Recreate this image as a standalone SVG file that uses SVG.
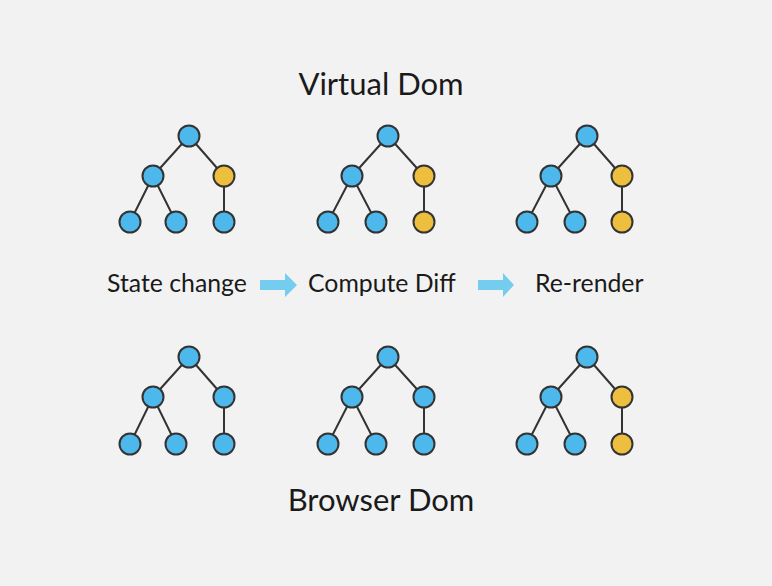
<svg xmlns="http://www.w3.org/2000/svg" width="772" height="586" viewBox="0 0 772 586">
<defs>
<style>
.bg{fill:#f2f2f2}
.e{stroke:#333;stroke-width:2;fill:none}
.b{fill:#4cb8ec;stroke:#333;stroke-width:2}
.y{fill:#eebf3f;stroke:#333;stroke-width:2}
.t{font-family:Lato,"Open Sans",sans-serif;fill:#1a1a1a}
.h{font-size:31px}
.l{font-size:24.8px}
.a{fill:#74cdef}
</style>
</defs>
<rect class="bg" x="0" y="0" width="772" height="586"/>
<g id="connectors">
<path class="e" d="M189,136L153,176M189,136L224,176M153,176L130,222M153,176L176,222M224,176L224,222"/>
<path class="e" d="M388,136L352,176M388,136L424,176M352,176L328,222M352,176L376,222M424,176L424,222"/>
<path class="e" d="M587,136L551,176M587,136L622,176M551,176L527,222M551,176L575,222M622,176L622,222"/>
<path class="e" d="M189,357L153,397M189,357L224,397M153,397L130,444M153,397L176,444M224,397L224,444"/>
<path class="e" d="M388,357L352,397M388,357L424,397M352,397L328,444M352,397L376,444M424,397L424,444"/>
<path class="e" d="M587,357L551,397M587,357L622,397M551,397L527,444M551,397L575,444M622,397L622,444"/>
</g>
<g id="vdom1">
<circle class="b" cx="189" cy="136" r="10.5"/><circle class="b" cx="153" cy="176" r="10.5"/><circle class="y" cx="224" cy="176" r="10.5"/>
<circle class="b" cx="130" cy="222" r="10.5"/><circle class="b" cx="176" cy="222" r="10.5"/><circle class="b" cx="224" cy="222" r="10.5"/>
</g>
<g id="vdom2">
<circle class="b" cx="388" cy="136" r="10.5"/><circle class="b" cx="352" cy="176" r="10.5"/><circle class="y" cx="424" cy="176" r="10.5"/>
<circle class="b" cx="328" cy="222" r="10.5"/><circle class="b" cx="376" cy="222" r="10.5"/><circle class="y" cx="424" cy="222" r="10.5"/>
</g>
<g id="vdom3">
<circle class="b" cx="587" cy="136" r="10.5"/><circle class="b" cx="551" cy="176" r="10.5"/><circle class="y" cx="622" cy="176" r="10.5"/>
<circle class="b" cx="527" cy="222" r="10.5"/><circle class="b" cx="575" cy="222" r="10.5"/><circle class="y" cx="622" cy="222" r="10.5"/>
</g>
<g id="bdom1">
<circle class="b" cx="189" cy="357" r="10.5"/><circle class="b" cx="153" cy="397" r="10.5"/><circle class="b" cx="224" cy="397" r="10.5"/>
<circle class="b" cx="130" cy="444" r="10.5"/><circle class="b" cx="176" cy="444" r="10.5"/><circle class="b" cx="224" cy="444" r="10.5"/>
</g>
<g id="bdom2">
<circle class="b" cx="388" cy="357" r="10.5"/><circle class="b" cx="352" cy="397" r="10.5"/><circle class="b" cx="424" cy="397" r="10.5"/>
<circle class="b" cx="328" cy="444" r="10.5"/><circle class="b" cx="376" cy="444" r="10.5"/><circle class="b" cx="424" cy="444" r="10.5"/>
</g>
<g id="bdom3">
<circle class="b" cx="587" cy="357" r="10.5"/><circle class="b" cx="551" cy="397" r="10.5"/><circle class="y" cx="622" cy="397" r="10.5"/>
<circle class="b" cx="527" cy="444" r="10.5"/><circle class="b" cx="575" cy="444" r="10.5"/><circle class="y" cx="622" cy="444" r="10.5"/>
</g>
<g id="arrow1"><polygon class="a" points="260,280 285,280 285,273 297,285 285,297 285,290 260,290"/></g>
<g id="arrow2"><polygon class="a" points="478,280 503,280 503,273 514,285 503,297 503,290 478,290"/></g>
<g id="labels">
<text class="t h" x="381" y="95" text-anchor="middle">Virtual Dom</text>
<text class="t l" x="107" y="292">State change</text>
<text class="t l" x="308" y="292">Compute Diff</text>
<text class="t l" x="535" y="292">Re-render</text>
<text class="t h" x="381" y="511" text-anchor="middle">Browser Dom</text>
</g>
</svg>
